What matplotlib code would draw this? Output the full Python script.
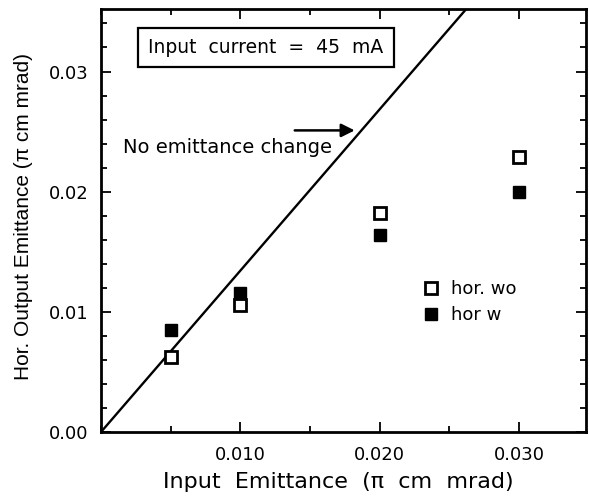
import numpy as np
import matplotlib.pyplot as plt
from matplotlib.ticker import MultipleLocator, FormatStrFormatter

plt.rcParams['font.family'] = ['DejaVu Sans']

# Data
x_in = [0.005, 0.010, 0.020, 0.030]
hor_wo = [0.0062, 0.0106, 0.0182, 0.0229]
hor_w = [0.0085, 0.0116, 0.0164, 0.0200]

# "no emittance change" reference line (as drawn in the figure)
line_x = [0.0, 0.0265]
line_y = [0.0, 0.0356]

fig = plt.figure(figsize=(5.89, 4.97), dpi=100)
ax = fig.add_axes([0.1715, 0.1308, 0.8235, 0.851])

ax.plot(line_x, line_y, color='black', lw=1.7)
ax.plot(x_in, hor_wo, 's', ms=8.5, mfc='white', mec='black', mew=2.0,
        label='hor. wo', linestyle='none')
ax.plot(x_in, hor_w, 's', ms=8.5, mfc='black', mec='black',
        label='hor w', linestyle='none')

ax.set_xlim(0, 0.0348)
ax.set_ylim(0, 0.0352)
ax.xaxis.set_major_locator(MultipleLocator(0.010))
ax.xaxis.set_minor_locator(MultipleLocator(0.005))
ax.yaxis.set_major_locator(MultipleLocator(0.010))
ax.yaxis.set_minor_locator(MultipleLocator(0.002))
ax.xaxis.set_major_formatter(FormatStrFormatter('%.3f'))
ax.yaxis.set_major_formatter(FormatStrFormatter('%.2f'))
ax.set_xticks([0.010, 0.020, 0.030])
ax.tick_params(which='both', direction='in', top=True, right=True, width=1.3)
ax.tick_params(which='major', length=7, labelsize=13)
ax.tick_params(axis='x', which='major', pad=10)
ax.tick_params(axis='y', which='major', pad=9)
ax.tick_params(which='minor', length=4)
for s in ax.spines.values():
    s.set_linewidth(2.0)

ax.set_xlabel('Input  Emittance  (π  cm  mrad)', fontsize=16)
ax.xaxis.set_label_coords(0.49, -0.095)
ax.set_ylabel('Hor. Output Emittance (π cm mrad)', fontsize=15,
              family='Liberation Sans')
ax.yaxis.set_label_coords(-0.14, 0.51)

ax.text(0.0034, 0.0320, 'Input  current  =  45  mA', fontsize=13.5,
        va='center', ha='left',
        bbox=dict(boxstyle='square,pad=0.55', fc='white', ec='black', lw=1.6))

ax.annotate('', xy=(0.0184, 0.0251), xytext=(0.0137, 0.0251),
            arrowprops=dict(arrowstyle='-|>', color='black', lw=1.8,
                            mutation_scale=20))
ax.text(0.0016, 0.0237, 'No emittance change', fontsize=14,
        va='center', ha='left')

ax.legend(loc='upper left', bbox_to_anchor=(0.625, 0.398), frameon=False,
          fontsize=13, handletextpad=0.5, labelspacing=0.45, numpoints=1,
          markerscale=0.95, handlelength=1.2)

fig.savefig('out.png', dpi=100)
